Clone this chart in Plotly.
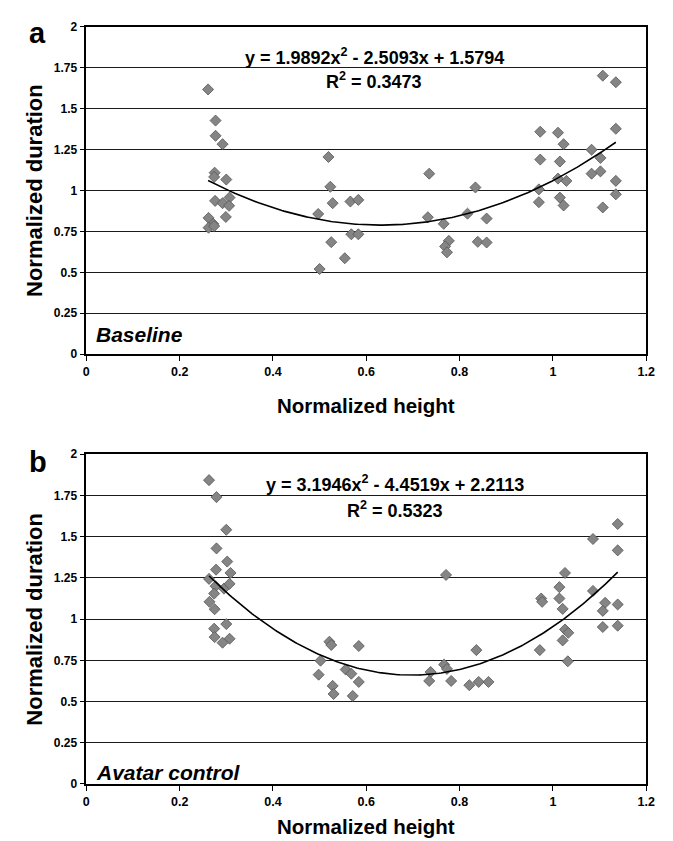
import numpy as np
import plotly.graph_objects as go

# ---------------- data ----------------
height_a = [0.261, 0.277, 0.277, 0.292, 0.275, 0.274, 0.300, 0.307, 0.276, 0.292, 0.306, 0.299,
            0.262, 0.272, 0.262, 0.274,
            0.519, 0.523, 0.528, 0.497, 0.566, 0.583, 0.568, 0.583, 0.525, 0.554, 0.500,
            0.735, 0.732, 0.766, 0.777, 0.769, 0.773, 0.817, 0.834, 0.858, 0.839, 0.858,
            1.107, 1.135, 0.973, 1.011, 1.023, 0.973, 1.015, 1.135, 1.083, 1.102, 1.083,
            1.102, 1.011, 1.029, 0.970, 0.970, 1.015, 1.023, 1.135, 1.135, 1.107]
duration_a = [1.616, 1.426, 1.333, 1.282, 1.108, 1.082, 1.066, 0.956, 0.936, 0.922, 0.906, 0.838,
              0.832, 0.796, 0.772, 0.782,
              1.204, 1.022, 0.922, 0.856, 0.932, 0.942, 0.732, 0.732, 0.684, 0.586, 0.520,
              1.102, 0.836, 0.796, 0.692, 0.658, 0.622, 0.858, 1.018, 0.828, 0.686, 0.682,
              1.700, 1.660, 1.358, 1.352, 1.282, 1.188, 1.176, 1.376, 1.248, 1.198, 1.102,
              1.116, 1.072, 1.058, 1.006, 0.928, 0.956, 0.908, 1.058, 0.976, 0.896]

height_b = [0.263, 0.279, 0.300, 0.279, 0.302, 0.278, 0.309, 0.263, 0.277, 0.295, 0.307, 0.274,
            0.264, 0.275, 0.300, 0.274, 0.275, 0.307, 0.292,
            0.771, 0.521, 0.525, 0.584, 0.502, 0.498, 0.556, 0.568, 0.584, 0.528, 0.530, 0.571,
            0.738, 0.735, 0.767, 0.773, 0.782, 0.821, 0.836, 0.841, 0.862,
            1.139, 1.086, 1.139, 1.026, 1.014, 0.975, 0.977, 1.014, 1.021, 1.086, 1.112,
            1.107, 1.139, 1.107, 1.139, 1.026, 1.033, 1.021, 0.972, 1.032]
duration_b = [1.843, 1.740, 1.542, 1.429, 1.349, 1.300, 1.280, 1.244, 1.200, 1.185, 1.214, 1.155,
              1.105, 1.060, 0.970, 0.942, 0.891, 0.881, 0.857,
              1.268, 0.863, 0.843, 0.837, 0.748, 0.663, 0.694, 0.669, 0.619, 0.595, 0.546, 0.534,
              0.679, 0.625, 0.724, 0.698, 0.625, 0.599, 0.812, 0.619, 0.619,
              1.577, 1.486, 1.417, 1.280, 1.194, 1.125, 1.105, 1.125, 1.062, 1.171, 1.099,
              1.050, 1.089, 0.952, 0.960, 0.937, 0.917, 0.871, 0.812, 0.744]

# trendline coefficients printed in the chart (a2, a1, a0)
coef_a = [1.9892, -2.5093, 1.5794]
coef_b = [3.1946, -4.4519, 2.2113]
r2_a = "0.3473"
r2_b = "0.5323"

panel_labels = ["a", "b"]
condition_labels = ["Baseline", "Avatar control"]
y_tick_vals = [0, 0.25, 0.5, 0.75, 1, 1.25, 1.5, 1.75, 2]
y_tick_text = ["0", "0.25", "0.5", "0.75", "1", "1.25", "1.5", "1.75", "2"]
x_tick_vals = [0, 0.2, 0.4, 0.6, 0.8, 1, 1.2]
x_tick_text = ["0", "0.2", "0.4", "0.6", "0.8", "1", "1.2"]

# ---------------- layout geometry (pixels) ----------------
W, H = 673, 841
FONT = "Liberation Sans, Arial, sans-serif"


def px(x):
    return x / W


def py(y):
    return 1 - y / H


plot_left, plot_right = 76.7, 646.7
panels = [
    dict(top=11.7, bottom=345.0),
    dict(top=446.7, bottom=782.0),
]

fig = go.Figure()

marker = dict(symbol="diamond", size=8.5, color="#858585",
              line=dict(color="#555555", width=0.8))

datasets = [(height_a, duration_a, coef_a, r2_a), (height_b, duration_b, coef_b, r2_b)]

for i, (hx, dy, coef, r2) in enumerate(datasets):
    xa = "x" if i == 0 else "x2"
    ya = "y" if i == 0 else "y2"
    fig.add_trace(go.Scatter(x=hx, y=dy, mode="markers", marker=marker,
                             xaxis=xa, yaxis=ya, showlegend=False))
    xs = np.linspace(min(hx), max(hx), 200)
    ys = np.polyval(coef, xs)
    fig.add_trace(go.Scatter(x=xs, y=ys, mode="lines",
                             line=dict(color="black", width=1.6),
                             xaxis=xa, yaxis=ya, showlegend=False))

axis_common = dict(showline=True, linecolor="black", linewidth=1.5, mirror=True,
                   ticks="outside", tickcolor="black", zeroline=False)

for i, p in enumerate(panels):
    sfx = "" if i == 0 else "2"
    fig.update_layout(**{
        "xaxis" + sfx: dict(
            domain=[px(plot_left), px(plot_right)], range=[0, 1.2],
            anchor="y" + sfx, tickvals=x_tick_vals, ticktext=x_tick_text,
            ticklen=5, tickwidth=1.2, showgrid=False,
            tickfont=dict(family=FONT, size=12.5, color="black", weight="bold"),
            **axis_common),
        "yaxis" + sfx: dict(
            domain=[py(p["bottom"]), py(p["top"])], range=[0, 2],
            anchor="x" + sfx, tickvals=y_tick_vals, ticktext=y_tick_text,
            ticklen=5, tickwidth=1.2, showgrid=True, gridcolor="#1a1a1a", gridwidth=1.4,
            tickfont=dict(family=FONT, size=12, color="black", weight="bold"),
            **axis_common),
    })

annotations = []
eq_pos = [(370, 42.4, 66.3), (391, 476.7, 503.3)]
title_y_x = [397, 825]
cond_y = [325, 770]
letter_y = [18, 455]

for i, (hx, dy, coef, r2) in enumerate(datasets):
    p = panels[i]
    eq = "y = %.4fx<sup>2</sup> - %.4fx + %.4f" % (coef[0], -coef[1], coef[2])
    ex, ey1, ey2 = eq_pos[i]
    annotations.append(dict(text=eq, x=px(ex), y=py(ey1), xref="paper", yref="paper",
                            xanchor="center", yanchor="middle", showarrow=False,
                            font=dict(family=FONT, size=18, color="black", weight="bold")))
    annotations.append(dict(text="R<sup>2</sup> = " + r2, x=px(ex), y=py(ey2),
                            xref="paper", yref="paper", xanchor="center", yanchor="middle",
                            showarrow=False,
                            font=dict(family=FONT, size=18, color="black", weight="bold")))
    annotations.append(dict(text=condition_labels[i], x=px(85), y=py(cond_y[i]),
                            xref="paper", yref="paper", xanchor="left", yanchor="middle",
                            showarrow=False,
                            font=dict(family=FONT, size=21, color="black", weight="bold",
                                      style="italic")))
    annotations.append(dict(text=panel_labels[i], x=px(27), y=py(letter_y[i]),
                            xref="paper", yref="paper", xanchor="center", yanchor="middle",
                            showarrow=False,
                            font=dict(family=FONT, size=29, color="black", weight="bold")))
    annotations.append(dict(text="Normalized duration", x=px(24),
                            y=py((p["top"] + p["bottom"]) / 2), textangle=-90,
                            xref="paper", yref="paper", xanchor="center", yanchor="middle",
                            showarrow=False,
                            font=dict(family=FONT, size=22, color="black", weight="bold")))
    annotations.append(dict(text="Normalized height", x=px((plot_left + plot_right) / 2),
                            y=py(title_y_x[i]), xref="paper", yref="paper",
                            xanchor="center", yanchor="middle", showarrow=False,
                            font=dict(family=FONT, size=20.5, color="black", weight="bold")))

fig.update_layout(width=W, height=H, margin=dict(l=0, r=0, t=0, b=0),
                  paper_bgcolor="white", plot_bgcolor="white",
                  annotations=annotations, showlegend=False)

fig.write_html("out.html")
